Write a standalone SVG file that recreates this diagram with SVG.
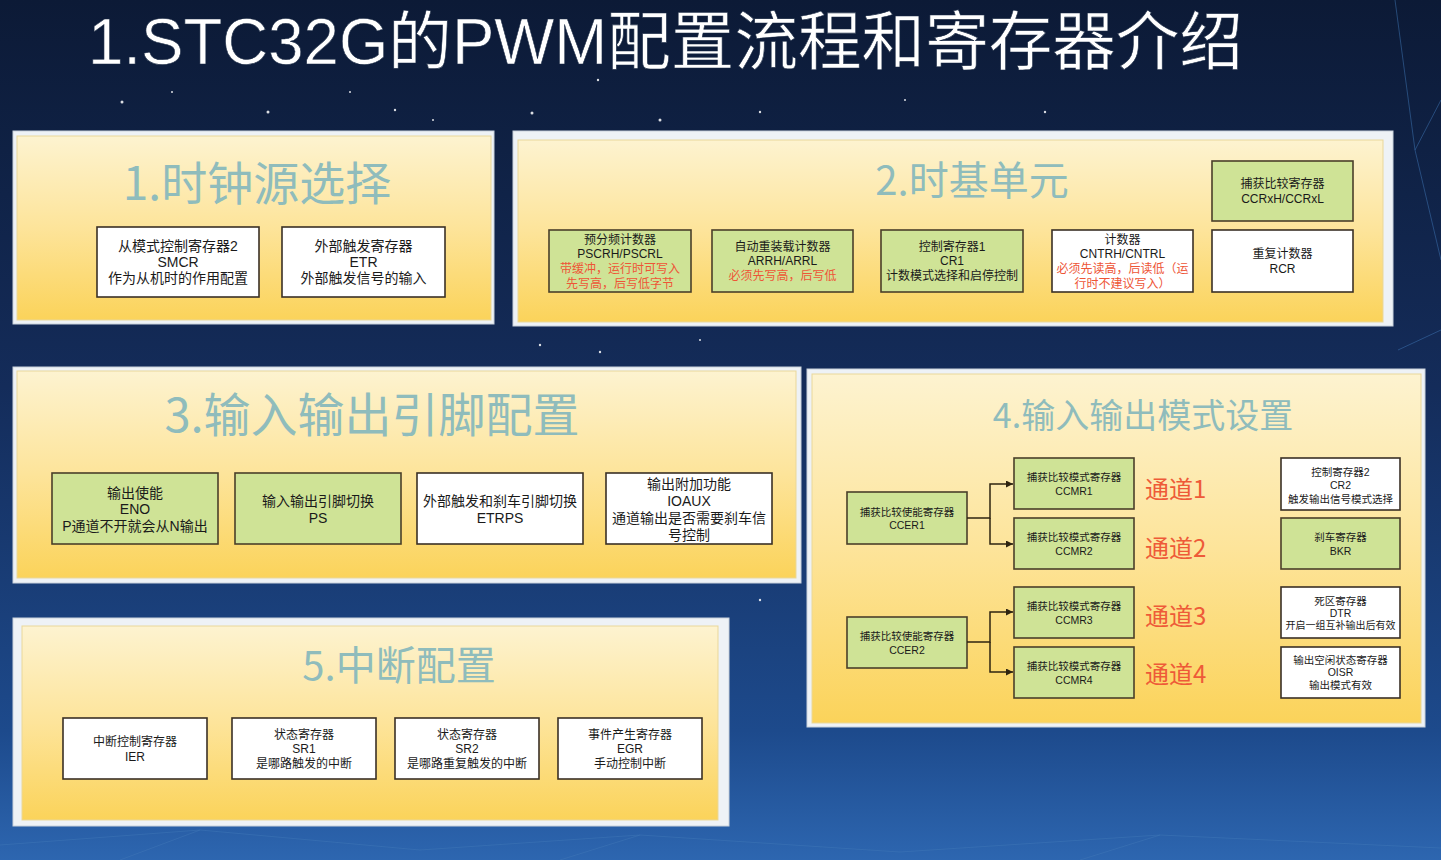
<svg xmlns="http://www.w3.org/2000/svg" width="1441" height="860" viewBox="0 0 1441 860">
<defs>
<linearGradient id="bg" x1="0" y1="0" x2="0" y2="1">
<stop offset="0" stop-color="#0c1a36"/>
<stop offset="0.45" stop-color="#142c5a"/>
<stop offset="0.85" stop-color="#1d4a8c"/>
<stop offset="1" stop-color="#2d66b0"/>
</linearGradient>
<linearGradient id="yel" x1="0" y1="0" x2="0" y2="1">
<stop offset="0" stop-color="#fdf3d0"/>
<stop offset="0.5" stop-color="#fde49a"/>
<stop offset="1" stop-color="#fbd35a"/>
</linearGradient>
<marker id="arr" viewBox="0 0 10 10" refX="10" refY="5" markerWidth="7" markerHeight="7" markerUnits="userSpaceOnUse" orient="auto">
<path d="M0,0 L10,5 L0,10 Z" fill="#2e2410"/>
</marker>
</defs>
<style>
.frame{fill:#eef2f6;stroke:#c9d2dc;stroke-width:1}
.panel{fill:url(#yel);stroke:#e9d79a;stroke-width:1}
.ptitle{font-family:"Noto Sans CJK SC","Liberation Sans",sans-serif;fill:#8fbcbc;text-anchor:middle}
.g{fill:#cfe396;stroke:#4a3f2a;stroke-width:1.6}
.w{fill:#ffffff;stroke:#3a3026;stroke-width:1.6}
text{font-family:"Liberation Sans","Noto Sans CJK SC",sans-serif}
.t{fill:#1a1a1a;text-anchor:middle}
.r{fill:#ee5536}
.f14{font-size:14px}
.f12{font-size:12px}
.f105{font-size:10.5px}
.f10{font-size:10px}
.ch{font-family:"Noto Sans CJK SC","Liberation Sans",sans-serif;font-size:24px;fill:#ee5a38}
.conn{fill:none;stroke:#2e2410;stroke-width:1.5}
.star{fill:#ffffff;opacity:0.85}
.net{stroke:#3f78b8;stroke-width:1;opacity:0.5;fill:none}
</style>
<rect x="0" y="0" width="1441" height="860" fill="url(#bg)"/>
<g id="decor">
<path class="net" d="M1395,0 L1415,150 L1441,100 M1415,150 L1441,260 M1398,350 L1441,330 M0,845 L200,830 L420,850 L640,835 L900,852 L1160,835 L1441,848 M120,860 L200,830 M560,860 L640,835 M1080,860 L1160,835"/>
<circle class="star" cx="122" cy="102" r="1.5"/>
<circle class="star" cx="172" cy="92" r="1"/>
<circle class="star" cx="268" cy="112" r="1.5"/>
<circle class="star" cx="350" cy="92" r="1"/>
<circle class="star" cx="395" cy="110" r="1.2"/>
<circle class="star" cx="433" cy="120" r="1"/>
<circle class="star" cx="532" cy="113" r="1.5"/>
<circle class="star" cx="598" cy="80" r="1.2"/>
<circle class="star" cx="660" cy="120" r="1.5"/>
<circle class="star" cx="760" cy="112" r="1.2"/>
<circle class="star" cx="905" cy="100" r="1"/>
<circle class="star" cx="1045" cy="112" r="1.2"/>
<circle class="star" cx="540" cy="345" r="1.2"/>
<circle class="star" cx="600" cy="352" r="1.2"/>
<circle class="star" cx="700" cy="340" r="1"/>
<circle class="star" cx="760" cy="600" r="1.2"/>
</g>
<text id="title" x="88" y="64" font-size="64" fill="#ffffff" stroke="#1a2a44" stroke-width="0.6" textLength="1155" lengthAdjust="spacingAndGlyphs" font-family="Liberation Sans, Noto Sans CJK SC, sans-serif">1.STC32G的PWM配置流程和寄存器介绍</text>

<g id="panel1">
<rect class="frame" x="13" y="131" width="481" height="193"/>
<rect class="panel" x="17" y="136" width="474" height="184"/>
<text class="ptitle" x="257" y="200" font-size="46">1.时钟源选择</text>
</g>
<g id="smcr">
<rect class="w" x="97" y="227" width="162" height="70"/>
<text class="t f14" x="178" y="251">从模式控制寄存器2</text>
<text class="t f14" x="178" y="267">SMCR</text>
<text class="t f14" x="178" y="283">作为从机时的作用配置</text>
</g>
<g id="etr">
<rect class="w" x="282" y="227" width="163" height="70"/>
<text class="t f14" x="363.5" y="251">外部触发寄存器</text>
<text class="t f14" x="363.5" y="267">ETR</text>
<text class="t f14" x="363.5" y="283">外部触发信号的输入</text>
</g>

<g id="panel2">
<rect class="frame" x="513" y="131" width="880" height="195"/>
<rect class="panel" x="518" y="140" width="865" height="182"/>
<text class="ptitle" x="972" y="195" font-size="40">2.时基单元</text>
</g>
<g id="pscr">
<rect class="g" x="549" y="230" width="142" height="62"/>
<text class="t f12" x="620" y="244">预分频计数器</text>
<text class="t f12" x="620" y="258">PSCRH/PSCRL</text>
<text class="t f12 r" x="620" y="273">带缓冲，运行时可写入</text>
<text class="t f12 r" x="620" y="288">先写高，后写低字节</text>
</g>
<g id="arr">
<rect class="g" x="712" y="230" width="141" height="62"/>
<text class="t f12" x="782.5" y="251">自动重装载计数器</text>
<text class="t f12" x="782.5" y="265">ARRH/ARRL</text>
<text class="t f12 r" x="782.5" y="280">必须先写高，后写低</text>
</g>
<g id="cr1">
<rect class="g" x="881" y="230" width="142" height="62"/>
<text class="t f12" x="952" y="251">控制寄存器1</text>
<text class="t f12" x="952" y="265">CR1</text>
<text class="t f12" x="952" y="280">计数模式选择和启停控制</text>
</g>
<g id="cntr">
<rect class="w" x="1052" y="230" width="141" height="62"/>
<text class="t f12" x="1122.5" y="244">计数器</text>
<text class="t f12" x="1122.5" y="258">CNTRH/CNTRL</text>
<text class="t f12 r" x="1122.5" y="273">必须先读高，后读低（运</text>
<text class="t f12 r" x="1122.5" y="288">行时不建议写入）</text>
</g>
<g id="rcr">
<rect class="w" x="1212" y="230" width="141" height="62"/>
<text class="t f12" x="1282.5" y="258">重复计数器</text>
<text class="t f12" x="1282.5" y="273">RCR</text>
</g>
<g id="ccr">
<rect class="g" x="1212" y="161" width="141" height="60"/>
<text class="t f12" x="1282.5" y="188">捕获比较寄存器</text>
<text class="t f12" x="1282.5" y="203">CCRxH/CCRxL</text>
</g>

<g id="panel3">
<rect class="frame" x="13" y="367" width="788" height="216"/>
<rect class="panel" x="17" y="371" width="779" height="207"/>
<text class="ptitle" x="372" y="432" font-size="47">3.输入输出引脚配置</text>
</g>
<g id="eno">
<rect class="g" x="52" y="473" width="166" height="71"/>
<text class="t f14" x="135" y="498">输出使能</text>
<text class="t f14" x="135" y="514">ENO</text>
<text class="t f14" x="135" y="531">P通道不开就会从N输出</text>
</g>
<g id="ps">
<rect class="g" x="235" y="473" width="166" height="71"/>
<text class="t f14" x="318" y="506">输入输出引脚切换</text>
<text class="t f14" x="318" y="523">PS</text>
</g>
<g id="etrps">
<rect class="w" x="417" y="473" width="166" height="71"/>
<text class="t f14" x="500" y="506">外部触发和刹车引脚切换</text>
<text class="t f14" x="500" y="523">ETRPS</text>
</g>
<g id="ioaux">
<rect class="w" x="606" y="473" width="166" height="71"/>
<text class="t f14" x="689" y="489">输出附加功能</text>
<text class="t f14" x="689" y="506">IOAUX</text>
<text class="t f14" x="689" y="523">通道输出是否需要刹车信</text>
<text class="t f14" x="689" y="540">号控制</text>
</g>

<g id="panel4">
<rect class="frame" x="807" y="369" width="618" height="358"/>
<rect class="panel" x="812" y="374" width="609" height="349"/>
<text class="ptitle" x="1143" y="428" font-size="34">4.输入输出模式设置</text>
</g>
<g id="ccer1">
<rect class="g" x="847" y="492" width="120" height="52"/>
<text class="t f105" x="907" y="515.5">捕获比较使能寄存器</text>
<text class="t f105" x="907" y="529">CCER1</text>
</g>
<g id="ccer2">
<rect class="g" x="847" y="617" width="120" height="51"/>
<text class="t f105" x="907" y="640">捕获比较使能寄存器</text>
<text class="t f105" x="907" y="653.5">CCER2</text>
</g>
<g id="ccmr1">
<rect class="g" x="1014" y="458" width="120" height="51"/>
<text class="t f105" x="1074" y="481">捕获比较模式寄存器</text>
<text class="t f105" x="1074" y="495">CCMR1</text>
</g>
<g id="ccmr2">
<rect class="g" x="1014" y="518" width="120" height="51"/>
<text class="t f105" x="1074" y="541">捕获比较模式寄存器</text>
<text class="t f105" x="1074" y="555">CCMR2</text>
</g>
<g id="ccmr3">
<rect class="g" x="1014" y="587" width="120" height="51"/>
<text class="t f105" x="1074" y="610">捕获比较模式寄存器</text>
<text class="t f105" x="1074" y="624">CCMR3</text>
</g>
<g id="ccmr4">
<rect class="g" x="1014" y="647" width="120" height="51"/>
<text class="t f105" x="1074" y="670">捕获比较模式寄存器</text>
<text class="t f105" x="1074" y="684">CCMR4</text>
</g>
<g id="channels">
<text class="ch" x="1145" y="498">通道1</text>
<text class="ch" x="1145" y="557">通道2</text>
<text class="ch" x="1145" y="625">通道3</text>
<text class="ch" x="1145" y="683">通道4</text>
</g>
<g id="cr2">
<rect class="w" x="1281" y="458" width="119" height="52"/>
<text class="t f105" x="1340.5" y="475.5">控制寄存器2</text>
<text class="t f105" x="1340.5" y="489">CR2</text>
<text class="t f105" x="1340.5" y="503">触发输出信号模式选择</text>
</g>
<g id="bkr">
<rect class="g" x="1281" y="518" width="119" height="51"/>
<text class="t f105" x="1340.5" y="541">刹车寄存器</text>
<text class="t f105" x="1340.5" y="554.5">BKR</text>
</g>
<g id="dtr">
<rect class="w" x="1281" y="587" width="119" height="51"/>
<text class="t f105" x="1340.5" y="605">死区寄存器</text>
<text class="t f105" x="1340.5" y="617">DTR</text>
<text class="t f10" x="1340.5" y="629">开启一组互补输出后有效</text>
</g>
<g id="oisr">
<rect class="w" x="1281" y="647" width="119" height="51"/>
<text class="t f105" x="1340.5" y="664">输出空闲状态寄存器</text>
<text class="t f105" x="1340.5" y="676">OISR</text>
<text class="t f105" x="1340.5" y="689">输出模式有效</text>
</g>

<g id="panel5">
<rect class="frame" x="13" y="618" width="716" height="208"/>
<rect class="panel" x="22" y="626" width="696" height="194"/>
<text class="ptitle" x="399" y="680" font-size="40">5.中断配置</text>
</g>
<g id="ier">
<rect class="w" x="63" y="718" width="144" height="61"/>
<text class="t f12" x="135" y="746">中断控制寄存器</text>
<text class="t f12" x="135" y="761">IER</text>
</g>
<g id="sr1">
<rect class="w" x="232" y="718" width="144" height="61"/>
<text class="t f12" x="304" y="739">状态寄存器</text>
<text class="t f12" x="304" y="753">SR1</text>
<text class="t f12" x="304" y="768">是哪路触发的中断</text>
</g>
<g id="sr2">
<rect class="w" x="395" y="718" width="144" height="61"/>
<text class="t f12" x="467" y="739">状态寄存器</text>
<text class="t f12" x="467" y="753">SR2</text>
<text class="t f12" x="467" y="768">是哪路重复触发的中断</text>
</g>
<g id="egr">
<rect class="w" x="558" y="718" width="144" height="61"/>
<text class="t f12" x="630" y="739">事件产生寄存器</text>
<text class="t f12" x="630" y="753">EGR</text>
<text class="t f12" x="630" y="768">手动控制中断</text>
</g>

<g id="connectors">
<path class="conn" d="M967,518 H990 V484 H1013" marker-end="url(#arr)"/>
<path class="conn" d="M990,518 V544 H1013" marker-end="url(#arr)"/>
<path class="conn" d="M967,642 H990 V612 H1013" marker-end="url(#arr)"/>
<path class="conn" d="M990,642 V672 H1013" marker-end="url(#arr)"/>
</g>
</svg>
